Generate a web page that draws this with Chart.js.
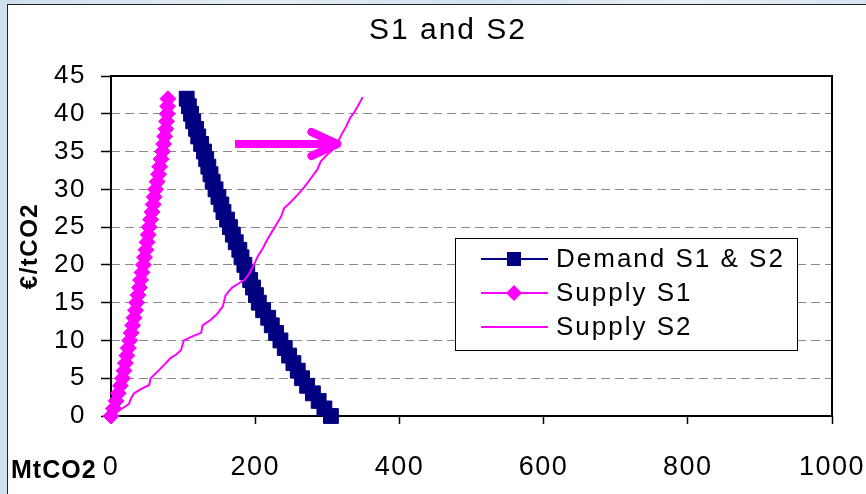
<!DOCTYPE html>
<html>
<head>
<meta charset="utf-8">
<script src="https://cdn.jsdelivr.net/npm/chart.js@4.4.1/dist/chart.umd.min.js"></script>
<style>
  html, body { margin: 0; padding: 0; }
  body {
    width: 866px; height: 494px; overflow: hidden; position: relative;
    background: linear-gradient(90deg, #cfdfef 0%, #e4edf7 30%, #d2e2f1 55%, #e8eff8 80%, #d6e4f2 100%);
  }
  #panel {
    position: absolute; left: 7px; top: 4px; right: -4px; bottom: -4px;
    background: #ffffff;
    border-left: 1.5px solid #222;
    border-top: 1.5px solid #222;
  }
  #chart { position: absolute; left: 0; top: 0; }
</style>
</head>
<body>
<div id="panel"></div>
<canvas id="chart" width="866" height="494"></canvas>
<script>
// Price levels (€/tCO2) and the matching quantities (MtCO2)
const demandPrice = [0, 1, 2, 3, 4, 5, 6, 7, 8, 9, 10, 11, 12, 13, 14, 15, 16, 17, 18, 19, 20,
                     21, 22, 23, 24, 25, 26, 27, 28, 29, 30, 31, 32, 33, 34, 35, 36, 37, 38, 39, 40, 41, 42];
const demandQty   = [305, 296, 288, 280, 272, 265, 259, 253, 247, 241, 235, 229, 223, 218, 211, 205, 201, 197, 193, 189, 185,
                     181, 178, 173, 169, 165, 161, 156, 153, 149, 145, 141, 138, 135, 132, 129, 125, 121, 118, 114, 111, 108, 105];

const supplyS1Price = [0, 1, 2, 3, 4, 5, 6, 7, 8, 9, 10, 11, 12, 13, 14, 15, 16, 17, 18, 19, 20,
                       21, 22, 23, 24, 25, 26, 27, 28, 29, 30, 31, 32, 33, 34, 35, 36, 37, 38, 39, 40, 41, 42];
const supplyS1Qty   = [0, 3.5, 7, 10, 13, 16, 18, 20, 22, 24, 26, 28, 30, 32, 34, 35.5, 37.5, 39.5, 41, 43, 45,
                       46.5, 48.5, 50, 51.5, 53, 55, 57, 58.5, 60, 62, 64, 66, 67.5, 69.5, 71.5, 73, 74.5, 76, 77, 78, 78.5, 79];

const supplyS2Qty   = [0, 2, 14, 25, 28, 32, 42, 53, 55, 68, 83, 90, 97, 101, 112, 125, 127, 138, 147, 155, 159, 168,
                       178, 185, 192, 198, 204, 210, 217, 224, 231, 236, 240, 250, 260, 268, 276, 286, 291, 300, 307,
                       314, 320, 326, 332, 338, 344, 349];
const supplyS2Price = [0, 0.1, 0.9, 1.6, 2.4, 3.0, 3.6, 4.1, 5.0, 6.2, 7.7, 8.1, 8.7, 10.0, 10.5, 11.0, 12.0, 12.7, 13.5, 14.5, 16.0, 17.0,
                       17.6, 18.0, 18.9, 20.0, 21.2, 22.1, 23.4, 24.5, 25.6, 26.4, 27.5, 28.4, 29.4, 30.3, 31.3, 32.6, 33.7, 34.6, 35.2,
                       36.1, 37.3, 38.3, 39.5, 40.3, 41.3, 42.2];

// Shift of the supply curve from S1 to S2 (quantity from -> to, at one price)
const arrowQty = [172, 314];
const arrowPrice = 36;

const xTickValues = [0, 200, 400, 600, 800, 1000];
const yTickValues = [0, 5, 10, 15, 20, 25, 30, 35, 40, 45];

const chartTitle = 'S1 and S2';
const seriesNames = ['Demand S1 & S2', 'Supply S1', 'Supply S2'];

const NAVY = '#000080';
const MAGENTA = '#FF00FF';
const FONT = '"Liberation Sans", Arial, sans-serif';

const toPoints = (xs, ys) => xs.map((x, i) => ({ x: x, y: ys[i] }));

function spacing(ctx, px) {
  if ('letterSpacing' in ctx) ctx.letterSpacing = px + 'px';
}

// Plot frame, drawn under the series
const framePlugin = {
  id: 'frame',
  beforeDatasetsDraw(chart) {
    const { ctx, chartArea: a } = chart;
    ctx.save();
    ctx.strokeStyle = '#000';
    ctx.lineWidth = 2;
    ctx.strokeRect(a.left, a.top, a.right - a.left, a.bottom - a.top);
    ctx.restore();
  }
};

// Slight tracking on the axis text
const textPlugin = {
  id: 'textSpacing',
  beforeDraw(chart) { spacing(chart.ctx, 1.5); }
};

// Arrow showing the S1 -> S2 shift
const arrowPlugin = {
  id: 'shiftArrow',
  afterDatasetsDraw(chart) {
    const { ctx, scales } = chart;
    const x0 = scales.x.getPixelForValue(arrowQty[0]);
    const x1 = scales.x.getPixelForValue(arrowQty[1]);
    const y = scales.y.getPixelForValue(arrowPrice);
    ctx.save();
    ctx.strokeStyle = MAGENTA;
    ctx.lineWidth = 8;
    ctx.lineCap = 'butt';
    ctx.beginPath();
    ctx.moveTo(x0, y);
    ctx.lineTo(x1 - 4, y);
    ctx.stroke();
    ctx.lineCap = 'round';
    ctx.lineJoin = 'round';
    ctx.beginPath();
    ctx.moveTo(x1 - 26, y - 12);
    ctx.lineTo(x1, y);
    ctx.lineTo(x1 - 26, y + 12);
    ctx.stroke();
    ctx.restore();
  }
};

// Title, boxed legend and x-axis unit
const annotatePlugin = {
  id: 'annotate',
  afterDraw(chart) {
    const { ctx } = chart;
    ctx.save();
    ctx.fillStyle = '#000';
    ctx.textBaseline = 'middle';

    ctx.font = '30px ' + FONT;
    ctx.textAlign = 'center';
    spacing(ctx, 2);
    ctx.fillText(chartTitle, 448, 31);

    const box = { left: 455.5, top: 238.5, width: 342, height: 112 };
    const rows = [259, 293, 327];
    const lineX0 = 481, lineX1 = 548, markX = 514, textX = 556;
    ctx.fillStyle = '#fff';
    ctx.fillRect(box.left, box.top, box.width, box.height);
    ctx.strokeStyle = '#000';
    ctx.lineWidth = 1;
    ctx.strokeRect(box.left, box.top, box.width, box.height);
    chart.data.datasets.forEach((ds, i) => {
      const y = rows[i];
      ctx.strokeStyle = ds.borderColor;
      ctx.lineWidth = 2;
      ctx.beginPath();
      ctx.moveTo(lineX0, y);
      ctx.lineTo(lineX1, y);
      ctx.stroke();
      ctx.fillStyle = ds.borderColor;
      if (ds.pointStyle === 'rect') {
        ctx.fillRect(markX - 7, y - 7, 14, 14);
      } else if (ds.pointStyle === 'rectRot') {
        ctx.beginPath();
        ctx.moveTo(markX - 8, y);
        ctx.lineTo(markX, y - 8);
        ctx.lineTo(markX + 8, y);
        ctx.lineTo(markX, y + 8);
        ctx.closePath();
        ctx.fill();
      }
      ctx.fillStyle = '#000';
      ctx.font = '26px ' + FONT;
      ctx.textAlign = 'left';
      spacing(ctx, 2);
      ctx.fillText(ds.label, textX, y + 1);
    });

    ctx.font = 'bold 25px ' + FONT;
    ctx.textAlign = 'left';
    spacing(ctx, 1);
    ctx.fillText('MtCO2', 11, 471);
    ctx.restore();
  }
};

new Chart(document.getElementById('chart'), {
  type: 'line',
  data: {
    datasets: [
      {
        label: seriesNames[0],
        data: toPoints(demandQty, demandPrice),
        borderColor: NAVY,
        backgroundColor: NAVY,
        borderWidth: 2,
        pointStyle: 'rect',
        pointRadius: 10.5,
        pointBorderWidth: 1,
        pointBackgroundColor: NAVY,
        pointBorderColor: NAVY,
        clip: false,
        order: 2
      },
      {
        label: seriesNames[1],
        data: toPoints(supplyS1Qty, supplyS1Price),
        borderColor: MAGENTA,
        backgroundColor: MAGENTA,
        borderWidth: 2,
        pointStyle: 'rectRot',
        pointRadius: 8,
        pointBorderWidth: 1,
        pointBackgroundColor: MAGENTA,
        pointBorderColor: MAGENTA,
        clip: false,
        order: 1
      },
      {
        label: seriesNames[2],
        data: toPoints(supplyS2Qty, supplyS2Price),
        borderColor: MAGENTA,
        backgroundColor: MAGENTA,
        borderWidth: 2,
        pointRadius: 0,
        clip: false,
        order: 0
      }
    ]
  },
  options: {
    responsive: false,
    animation: false,
    devicePixelRatio: 1,
    events: [],
    layout: { padding: { left: 0, right: 34, top: 76, bottom: 0 } },
    plugins: {
      legend: { display: false },
      tooltip: { enabled: false },
      title: { display: false }
    },
    scales: {
      x: {
        type: 'linear',
        min: 0, max: 1000,
        afterFit(scale) {
          scale.height = 78;
          scale.paddingLeft = 0;
          scale.paddingRight = 0;
        },
        afterBuildTicks(scale) { scale.ticks = xTickValues.map(v => ({ value: v })); },
        border: { display: false },
        grid: { drawOnChartArea: false, drawTicks: true, tickLength: 8, tickColor: '#000', tickWidth: 1.5 },
        ticks: {
          color: '#000', font: { family: FONT, size: 27 }, padding: 27, maxRotation: 0,
          callback: (v) => String(v)
        }
      },
      y: {
        type: 'linear',
        min: 0, max: 45,
        afterFit(scale) {
          scale.width = 111;
          scale.paddingTop = 0;
          scale.paddingBottom = 0;
        },
        afterBuildTicks(scale) { scale.ticks = yTickValues.map(v => ({ value: v })); },
        border: { display: false, dash: [9, 5] },
        grid: { color: '#8a8a8a', lineWidth: 1, drawTicks: true, tickLength: 10, tickColor: '#000', tickWidth: 1.5, tickBorderDash: [] },
        ticks: { color: '#000', font: { family: FONT, size: 26 }, padding: 15, callback: (v) => String(v) },
        title: {
          display: true,
          text: '€/tCO2',
          color: '#000',
          font: { family: FONT, size: 24, weight: 'bold' },
          padding: { top: 16, bottom: 0 }
        }
      }
    }
  },
  plugins: [textPlugin, framePlugin, arrowPlugin, annotatePlugin]
});
</script>
</body>
</html>
